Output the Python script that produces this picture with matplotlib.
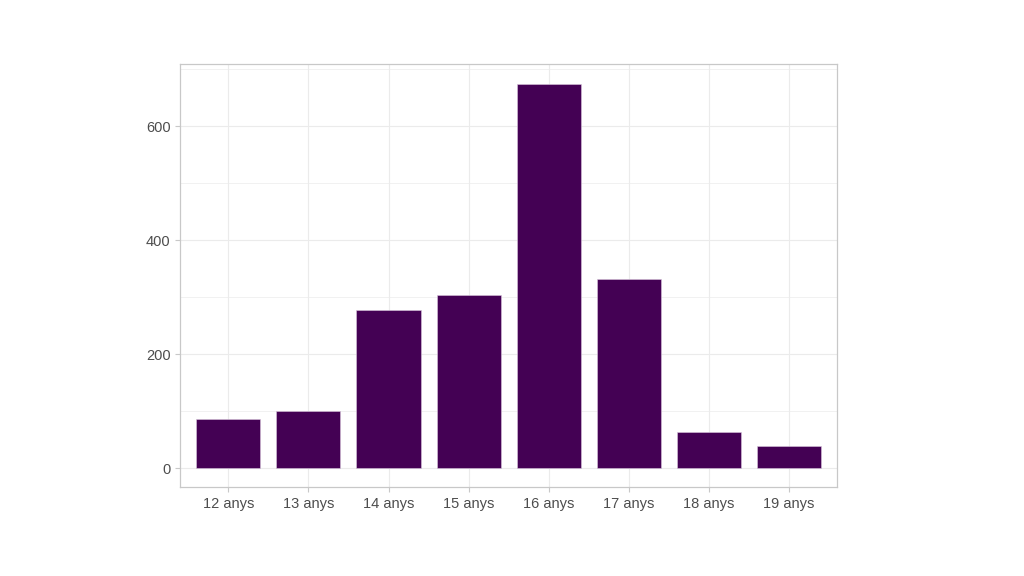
import matplotlib
matplotlib.use("Agg")
import matplotlib.pyplot as plt
from matplotlib.ticker import MultipleLocator

plt.rcParams["font.family"] = ["Liberation Sans", "DejaVu Sans"]

CATEGORIES = ["12 anys", "13 anys", "14 anys", "15 anys", "16 anys", "17 anys", "18 anys", "19 anys"]
COUNTS = [87, 101, 277, 303, 675, 332, 64, 38]

BAR_COLOR = "#440154"
TEXT_COLOR = "#4d4d4d"
GRID_COLOR = "#ebebeb"
BORDER_COLOR = "#c8c8c8"

fig = plt.figure(figsize=(10.24, 5.76), dpi=100)
ax = fig.add_axes([0.176, 0.154, 0.6416, 0.7344])

x = list(range(1, len(CATEGORIES) + 1))
ax.bar(x, COUNTS, width=0.8, color=BAR_COLOR, edgecolor="#d9c8dd", linewidth=0.4, zorder=3)

ax.set_xlim(0.4, len(CATEGORIES) + 0.6)
top = max(COUNTS)
ax.set_ylim(-0.05 * top, top * 1.05)
ax.set_xticks(x)
ax.set_xticklabels(CATEGORIES)
ax.yaxis.set_major_locator(MultipleLocator(200))
ax.yaxis.set_minor_locator(MultipleLocator(100))

ax.grid(which="major", color=GRID_COLOR, lw=0.8, zorder=0)
ax.grid(which="minor", axis="y", color=GRID_COLOR, lw=0.5, zorder=0)

for spine in ax.spines.values():
    spine.set_color(BORDER_COLOR)
    spine.set_linewidth(0.9)

ax.tick_params(which="major", colors=BORDER_COLOR, labelcolor=TEXT_COLOR, labelsize=10.5, length=3.5, width=0.8)
ax.tick_params(which="minor", length=0)

fig.savefig("out.png", dpi=100)
